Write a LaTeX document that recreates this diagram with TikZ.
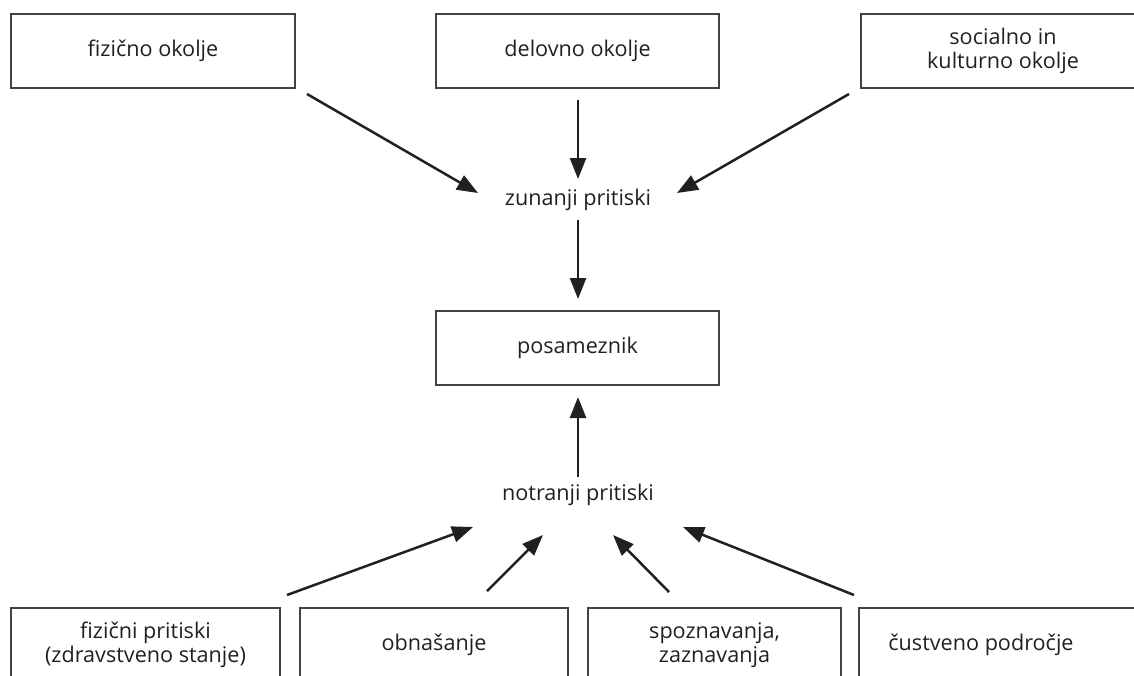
\documentclass[tikz,border=0pt]{standalone}
\usepackage{fontspec}
\setmainfont{Open Sans}
\usetikzlibrary{arrows.meta}
\definecolor{ink}{HTML}{231F20}
\begin{document}
\begin{tikzpicture}[x=0.5pt,y=-0.5pt,
  box/.style={draw=ink!85,line width=0.75pt,rectangle,minimum height=37pt,inner sep=0pt,align=center,text=ink,font=\fontsize{10.8}{12}\selectfont},
  lbl/.style={inner sep=0pt,text=ink,font=\fontsize{10.8}{12}\selectfont},
  arr/.style={draw=ink,line width=1.25pt,-{Triangle[length=10.5pt,width=8pt]}}]
\useasboundingbox (0,0) rectangle (1134,675);
\clip (0,0) rectangle (1134,675);
% top boxes
\node[box,minimum width=142pt] (fiz) at (153,51) {fizično okolje};
\node[box,minimum width=141.5pt] (del) at (577.5,51) {delovno okolje};
\node[box,minimum width=142pt] (soc) at (1003,51) {socialno in\\kulturno okolje};
% middle
\node[lbl] (zun) at (578,200) {zunanji pritiski};
\node[box,minimum width=141.5pt] (pos) at (577.5,348) {posameznik};
\node[lbl] (not) at (578,495) {notranji pritiski};
% bottom boxes
\node[box,minimum width=134.5pt] (fp) at (145.5,645) {fizični pritiski\\(zdravstveno stanje)};
\node[box,minimum width=134pt] (obn) at (434,645) {obnašanje};
\node[box,minimum width=126.5pt] (spo) at (714.5,645) {spoznavanja,\\zaznavanja};
\node[box,minimum width=145pt] (cus) at (1004,645) {čustveno področje\hspace*{23pt}};
% arrow end points
\coordinate (t1) at (307,94);  \coordinate (h1) at (478,193);
\coordinate (t2) at (578,100); \coordinate (h2) at (578,179);
\coordinate (t3) at (849,94);  \coordinate (h3) at (677,193);
\coordinate (t4) at (578,220); \coordinate (h4) at (578,299);
\coordinate (t5) at (578,477); \coordinate (h5) at (578,397);
\coordinate (b1) at (287,595); \coordinate (g1) at (473,527);
\coordinate (b2) at (487,591); \coordinate (g2) at (543,535);
\coordinate (b3) at (669,592); \coordinate (g3) at (613,535);
\coordinate (b4) at (854,595); \coordinate (g4) at (683,527);
\draw[arr] (t1) -- (h1);
\draw[arr] (t2) -- (h2);
\draw[arr] (t3) -- (h3);
\draw[arr] (t4) -- (h4);
\draw[arr] (t5) -- (h5);
\draw[arr] (b1) -- (g1);
\draw[arr] (b2) -- (g2);
\draw[arr] (b3) -- (g3);
\draw[arr] (b4) -- (g4);
\end{tikzpicture}
\end{document}
